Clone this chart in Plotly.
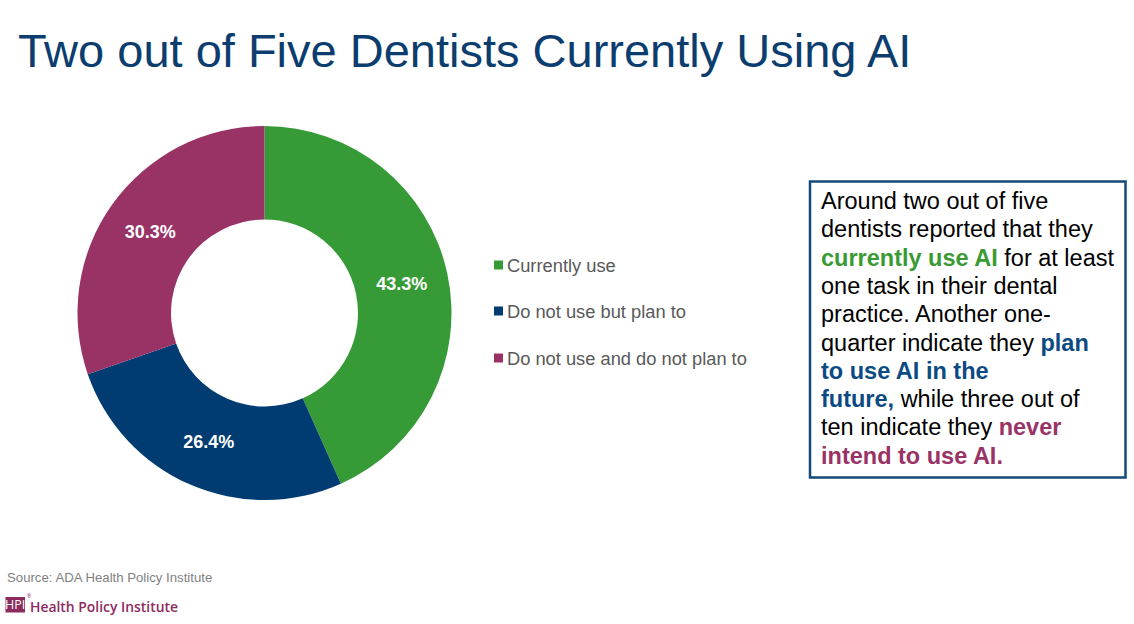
import plotly.graph_objects as go

W, H = 1134, 624

# ---- data ----
labels = ["Currently use", "Do not use but plan to", "Do not use and do not plan to"]
values = [43.3, 26.4, 30.3]
colors = ["#369B36", "#003C71", "#993366"]

title_text = "Two out of Five Dentists Currently Using AI"
source_text = "Source: ADA Health Policy Institute"

GREEN, BLUE, MAG = "#3A9B35", "#0B4A82", "#993366"
def b(t, c):
    return f"<b><span style='color:{c}'>{t}</span></b>"

box_lines = [
    "Around two out of five",
    "dentists reported that they",
    b("currently use AI", GREEN) + " for at least",
    "one task in their dental",
    "practice. Another one-",
    "quarter indicate they " + b("plan", BLUE),
    b("to use AI in the", BLUE),
    b("future,", BLUE) + " while three out of",
    "ten indicate they " + b("never", MAG),
    b("intend to use AI.", MAG),
]

def px(x):
    return x / W

def py(y):
    return 1 - y / H

fig = go.Figure()
fig.add_trace(go.Pie(
    labels=labels, values=values, hole=0.5, sort=False, direction="clockwise",
    rotation=0, marker=dict(colors=colors, line=dict(width=0)),
    texttemplate="%{value:.1f}%", textposition="inside", insidetextorientation="horizontal",
    textfont=dict(family="Liberation Sans, Arial", size=18, color="white", weight="bold"),
    domain=dict(x=[px(77), px(452)], y=[py(500), py(126)]),
    showlegend=False, hoverinfo="label+value",
))

anns = []
shapes = []

# title
anns.append(dict(x=px(16), y=py(50), xref="paper", yref="paper", xanchor="left", yanchor="middle",
                 text=title_text, showarrow=False,
                 font=dict(family="Liberation Sans Narrow, Arial Narrow, Liberation Sans", size=47, color="#0B3D6E")))

# legend
leg_y = [265, 311, 358]
for lab, col, yy in zip(labels, colors, leg_y):
    shapes.append(dict(type="rect", xref="paper", yref="paper", x0=px(494), x1=px(503),
                       y0=py(yy + 4.5), y1=py(yy - 4.5), fillcolor=col, line=dict(width=0)))
    anns.append(dict(x=px(505), y=py(yy), xref="paper", yref="paper", xanchor="left", yanchor="middle",
                     text=lab, showarrow=False,
                     font=dict(family="Liberation Sans, Arial", size=18.3, color="#595959")))

# text box
shapes.append(dict(type="rect", xref="paper", yref="paper", x0=px(810), x1=px(1125.5),
                   y0=py(477.5), y1=py(181.5), line=dict(color="#134A7C", width=2.5), fillcolor="white"))
for i, line in enumerate(box_lines):
    anns.append(dict(x=px(819), y=py(201 + i * 28.3), xref="paper", yref="paper", xanchor="left",
                     yanchor="middle", text=line, showarrow=False,
                     font=dict(family="Liberation Sans, Arial", size=23.5, color="black")))

# footer
anns.append(dict(x=px(5), y=py(577), xref="paper", yref="paper", xanchor="left", yanchor="middle",
                 text=source_text, showarrow=False,
                 font=dict(family="Liberation Sans, Arial", size=13.2, color="#7F7F7F")))
shapes.append(dict(type="rect", xref="paper", yref="paper", x0=px(5.5), x1=px(25), y0=py(612.5), y1=py(597),
                   fillcolor="#8E2B5E", line=dict(width=0)))
anns.append(dict(x=px(15.3), y=py(604.7), xref="paper", yref="paper", xanchor="center", yanchor="middle",
                 text="HPI", showarrow=False,
                 font=dict(family="Open Sans", size=12.5, color="white")))
anns.append(dict(x=px(25), y=py(596), xref="paper", yref="paper", xanchor="left", yanchor="middle",
                 text="®", showarrow=False, font=dict(family="Open Sans", size=5, color="#8E2B5E")))
anns.append(dict(x=px(28), y=py(606), xref="paper", yref="paper", xanchor="left", yanchor="middle",
                 text="Health Policy Institute", showarrow=False,
                 font=dict(family="Open Sans", size=13.9, color="#8E2B5E", weight=600)))

fig.update_layout(
    width=W, height=H, margin=dict(l=0, r=0, t=0, b=0),
    paper_bgcolor="white", plot_bgcolor="white",
    annotations=anns, shapes=shapes, showlegend=False,
)

fig.write_html("out.html")
